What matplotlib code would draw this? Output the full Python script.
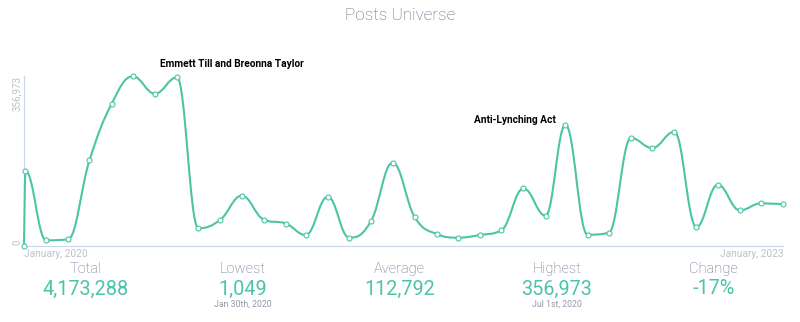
import matplotlib
matplotlib.use("Agg")
import matplotlib.pyplot as plt
import matplotlib.dates as mdates
from matplotlib.path import Path
from matplotlib.patches import PathPatch
from datetime import datetime

plt.rcParams['font.family'] = ['Roboto', 'DejaVu Sans']

# data (one point per month, first one is Jan 30th)
dates = ["2020-01-30", "2020-02-01", "2020-03-01", "2020-04-01", "2020-05-01", "2020-06-01",
         "2020-07-01", "2020-08-01", "2020-09-01", "2020-10-01", "2020-11-01", "2020-12-01",
         "2021-01-01", "2021-02-01", "2021-03-01", "2021-04-01", "2021-05-01", "2021-06-01",
         "2021-07-01", "2021-08-01", "2021-09-01", "2021-10-01", "2021-11-01", "2021-12-01",
         "2022-01-01", "2022-02-01", "2022-03-01", "2022-04-01", "2022-05-01", "2022-06-01",
         "2022-07-01", "2022-08-01", "2022-09-01", "2022-10-01", "2022-11-01", "2022-12-01",
         "2023-01-01"]
posts = [1049, 159000, 13000, 15100, 180800, 298900,
         356973, 320500, 354900, 38200, 56200, 106500,
         56200, 48200, 24100, 104500, 18500, 54100,
         175800, 61900, 26200, 18500, 24100, 34000,
         121700, 64600, 255500, 24700, 28900, 227600,
         206600, 240800, 40900, 129600, 75900, 90600,
         88500]

stat_labels = ["Total", "Lowest", "Average", "Highest", "Change"]
stat_values = ["4,173,288", "1,049", "112,792", "356,973", "-17%"]
stat_notes = ["", "Jan 30th, 2020", "", "Jul 1st, 2020", ""]

notes = ["Emmett Till and Breonna Taylor", "Anti-Lynching Act"]
notes_xy = [(0.2737, 1.072), (0.6462, 0.743)]

TEAL = "#4cc4a6"
AXIS = "#ccd6eb"
LIGHT = "#bcc1d0"

x = [mdates.date2num(datetime.strptime(d, "%Y-%m-%d")) for d in dates]
y = posts


def spline_path(xs, ys, smoothing=1.5):
    # highcharts style spline, control points per point
    n = len(xs)
    lc, rc = [], []
    for i in range(n):
        if 0 < i < n - 1:
            d = smoothing + 1
            lx = (smoothing * xs[i] + xs[i - 1]) / d
            ly = (smoothing * ys[i] + ys[i - 1]) / d
            rx = (smoothing * xs[i] + xs[i + 1]) / d
            ry = (smoothing * ys[i] + ys[i + 1]) / d
            corr = (ry - ly) * (rx - xs[i]) / (rx - lx) + ys[i] - ry
            ly += corr
            ry += corr
            if ly > ys[i - 1] and ly > ys[i]:
                ly = max(ys[i - 1], ys[i]); ry = 2 * ys[i] - ly
            elif ly < ys[i - 1] and ly < ys[i]:
                ly = min(ys[i - 1], ys[i]); ry = 2 * ys[i] - ly
            if ry > ys[i + 1] and ry > ys[i]:
                ry = max(ys[i + 1], ys[i]); ly = 2 * ys[i] - ry
            elif ry < ys[i + 1] and ry < ys[i]:
                ry = min(ys[i + 1], ys[i]); ly = 2 * ys[i] - ry
            lc.append((lx, ly)); rc.append((rx, ry))
        else:
            lc.append((xs[i], ys[i])); rc.append((xs[i], ys[i]))
    verts = [(xs[0], ys[0])]
    codes = [Path.MOVETO]
    for i in range(1, n):
        verts += [rc[i - 1], lc[i], (xs[i], ys[i])]
        codes += [Path.CURVE4] * 3
    return Path(verts, codes)


fig = plt.figure(figsize=(8, 3.22), dpi=100)
ax = fig.add_axes([0.03, 0.2345, 0.949, 0.5285])

ax.add_patch(PathPatch(spline_path(x, y), fill=False, edgecolor=TEAL, lw=1.5,
                       clip_on=False, zorder=3))
ax.plot(x, y, "o", ms=3.6, mfc="white", mec=TEAL, mew=0.8, clip_on=False, zorder=4)

ax.set_xlim(x[0], x[-1])
ax.set_ylim(0, max(posts))
ax.set_xticks([])
ax.set_yticks([])
for s in ["top", "right"]:
    ax.spines[s].set_visible(False)
for s in ["left", "bottom"]:
    ax.spines[s].set_color(AXIS)
    ax.spines[s].set_linewidth(0.8)

ax.text(-0.009, 0.024, "0", rotation=90, ha="center", va="center",
        fontsize=7, color=LIGHT, transform=ax.transAxes)
ax.text(-0.009, 1.0, f"{max(posts):,}", rotation=90, ha="center", va="top",
        fontsize=7, color=LIGHT, transform=ax.transAxes)
ax.text(0.0, -0.046, "January, 2020", ha="left", va="center",
        fontsize=7.3, color=LIGHT, transform=ax.transAxes)
ax.text(1.0, -0.046, "January, 2023", ha="right", va="center",
        fontsize=7.3, color=LIGHT, transform=ax.transAxes)

for t, (nx, ny) in zip(notes, notes_xy):
    ax.text(nx, ny, t, ha="center", va="center", fontsize=7.3, fontweight="bold",
            color="black", transform=ax.transAxes)

fig.text(0.4996, 0.9534, "Posts Universe", ha="center", va="center",
         fontsize=12.3, fontweight="light", color="#5f6884")

stat_x = [0.1066, 0.3029, 0.4994, 0.6959, 0.8923]
for sx, lab, val, note in zip(stat_x, stat_labels, stat_values, stat_notes):
    fig.text(sx, 0.1637, lab, ha="center", va="center", fontsize=10.5,
             fontweight="light", color="#656d8a")
    fig.text(sx, 0.1025, val, ha="center", va="center", fontsize=14.3, color=TEAL)
    if note:
        fig.text(sx, 0.055, note, ha="center", va="center", fontsize=6.3, color="#9398aa")

fig.savefig("out.png", dpi=100)
